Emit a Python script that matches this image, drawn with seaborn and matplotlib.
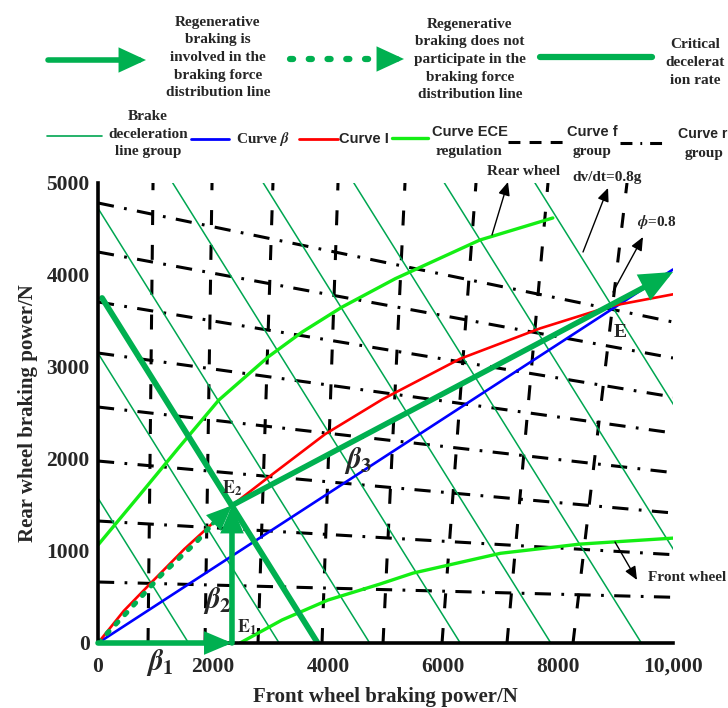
import numpy as np
import pandas as pd
import matplotlib
matplotlib.use("Agg")
import matplotlib.pyplot as plt
import seaborn as sns
from matplotlib.lines import Line2D

# ---------------- data ----------------
x_ticks = [0, 2000, 4000, 6000, 8000, 10000]
x_tick_labels = ["0", "2000", "4000", "6000", "8000", "10,000"]
y_ticks = [0, 1000, 2000, 3000, 4000, 5000]
y_tick_labels = ["0", "1000", "2000", "3000", "4000", "5000"]

beta_x = [0, 10000]
beta_y = [0, 4060]

curve_i_x = [0, 450, 940, 1500, 2330, 2940, 3950, 4950, 6300, 7690, 8940, 10000]
curve_i_y = [0, 350, 665, 1020, 1495, 1790, 2270, 2650, 3090, 3420, 3665, 3790]

ece_upper_x = [0, 700, 1400, 2100, 2960, 3550, 4240, 5170, 6640, 7910]
ece_upper_y = [1065, 1590, 2120, 2640, 3110, 3380, 3650, 3960, 4380, 4620]

ece_lower_x = [2470, 3200, 4000, 4900, 5480, 7000, 8380, 10000]
ece_lower_y = [0, 250, 467, 640, 760, 975, 1075, 1140]

decel_sums = [1575, 3150, 4725, 6300, 7875, 9450, 11025, 12600]

f_x_bottom = [870, 1861, 2783, 3896, 4957, 5983, 7113, 8261]
f_x_top = [957, 1983, 3043, 4174, 5339, 6574, 7826, 9200]

r_y_left = [4783, 4250, 3707, 3152, 2565, 1978, 1326, 663]
r_y_right = [3489, 3098, 2674, 2283, 1852, 1413, 960, 497]

regen_dotted_x = [0, 500, 1100, 1700, 2000]
regen_dotted_y = [0, 330, 740, 1090, 1300]

point_e1 = (2330, 0)
point_e2 = (2330, 1495)
beta3_end = (10000, 4033)
critical_x = [70, 3820]
critical_y = [3750, 0]

# ---------------- style ----------------
sns.set_theme(style="white")
plt.rcParams["font.family"] = ["Liberation Serif", "DejaVu Serif"]
plt.rcParams["font.weight"] = "bold"
plt.rcParams["mathtext.fontset"] = "stix"

GREEN = "#00B050"
THIN_GREEN = "#00A651"
LIME = "#14EE14"
SANS = ["Liberation Sans Narrow", "Liberation Sans", "DejaVu Sans"]

W, H = 728, 708
def fx(px):
    return px / W
def fy(py):
    return 1 - py / H

fig = plt.figure(figsize=(7.28, 7.08), dpi=100)
ax = fig.add_axes([fx(98), fy(643), (673 - 98) / W, (643 - 183) / H])

DASH = (0, (4.9, 6.5))
DASHDOT = (0, (5.3, 3.4, 0.9, 3.4))

# f group (near-vertical dashed)
f_df = pd.DataFrame({
    "x": [v for pair in zip(f_x_bottom, f_x_top) for v in pair],
    "y": [0, 5000] * len(f_x_bottom),
    "line": np.repeat(np.arange(len(f_x_bottom)), 2),
})
sns.lineplot(data=f_df, x="x", y="y", units="line", estimator=None, sort=False,
             color="black", lw=2.2, linestyle=DASH, ax=ax, legend=False)

# r group (dash-dot)
r_df = pd.DataFrame({
    "x": [0, 10000] * len(r_y_left),
    "y": [v for pair in zip(r_y_left, r_y_right) for v in pair],
    "line": np.repeat(np.arange(len(r_y_left)), 2),
})
sns.lineplot(data=r_df, x="x", y="y", units="line", estimator=None, sort=False,
             color="black", lw=2.2, linestyle=DASHDOT, ax=ax, legend=False)

# brake deceleration lines x + y = c
d_df = pd.DataFrame({
    "x": [v for c in decel_sums for v in (0, c)],
    "y": [v for c in decel_sums for v in (c, 0)],
    "line": np.repeat(np.arange(len(decel_sums)), 2),
})
sns.lineplot(data=d_df, x="x", y="y", units="line", estimator=None, sort=False,
             color=THIN_GREEN, lw=1.1, ax=ax, legend=False)

# curves
sns.lineplot(x=ece_upper_x, y=ece_upper_y, sort=False, estimator=None, color=LIME, lw=2.4, ax=ax)
sns.lineplot(x=ece_lower_x, y=ece_lower_y, sort=False, estimator=None, color=LIME, lw=2.4, ax=ax)
sns.lineplot(x=beta_x, y=beta_y, sort=False, estimator=None, color="#0000FF", lw=1.9, ax=ax)
sns.lineplot(x=curve_i_x, y=curve_i_y, sort=False, estimator=None, color="#FF0000", lw=1.9, ax=ax)

# critical deceleration line
sns.lineplot(x=critical_x, y=critical_y, sort=False, estimator=None, color=GREEN, lw=4.2, ax=ax)

# dotted regenerative-not-involved curve
ax.plot(regen_dotted_x, regen_dotted_y, color=GREEN, lw=3.6, linestyle=(0, (0.6, 2.0)),
        dash_capstyle="round")

def big_arrow(start, end, hl=13, hw=5.5, lw=4.0):
    ax.annotate("", xy=end, xytext=start,
                arrowprops=dict(arrowstyle=f"-|>,head_length={hl},head_width={hw}",
                                mutation_scale=1, lw=lw, color=GREEN, shrinkA=0, shrinkB=0,
                                joinstyle="miter"),
                annotation_clip=False)

big_arrow((0, 0), point_e1)
big_arrow(point_e1, point_e2)
big_arrow(point_e2, beta3_end, hl=17, hw=7.5)
big_arrow((regen_dotted_x[-1], regen_dotted_y[-1]), point_e2, hl=13, hw=5.5, lw=3.0)

# thin annotation arrows
def thin_arrow(start, end):
    ax.annotate("", xy=end, xytext=start,
                arrowprops=dict(arrowstyle="-|>,head_length=0.8,head_width=0.35",
                                mutation_scale=10, lw=1.0, color="black", shrinkA=0, shrinkB=0),
                annotation_clip=False)

thin_arrow((6852, 4435), (7130, 5011))
thin_arrow((8435, 4250), (8870, 4946))
thin_arrow((8957, 3815), (9478, 4413))
thin_arrow((8991, 1098), (9374, 685))

ax.text(7409, 5120, "Rear wheel", ha="center", va="center", fontsize=11, fontweight="bold", clip_on=False)
ax.text(8852, 5065, "dv/dt=0.8g", ha="center", va="center", fontsize=11, fontweight="bold", clip_on=False)
ax.text(9722, 4576, r"$\phi$=0.8", ha="center", va="center", fontsize=11, fontweight="bold", clip_on=False)
ax.text(9565, 717, "Front wheel", ha="left", va="center", fontsize=11, fontweight="bold", clip_on=False)

ax.text(9078, 3380, "E", ha="center", va="center", fontsize=14, fontweight="bold")
ax.text(2330, 1685, r"$\mathbf{E}_\mathbf{2}$", ha="center", va="center", fontsize=13)
ax.text(2590, 174, r"$\mathbf{E}_\mathbf{1}$", ha="center", va="center", fontsize=13)
ax.text(1078, -207, r"$\beta_1$", ha="center", va="center", fontsize=21, clip_on=False)
ax.text(2070, 467, r"$\beta_2$", ha="center", va="center", fontsize=21)
ax.text(4522, 1989, r"$\beta_3$", ha="center", va="center", fontsize=21)

# axes
ax.set_xlim(0, 10000)
ax.set_ylim(0, 5000)
ax.set_xticks(x_ticks)
ax.set_xticklabels(x_tick_labels, fontsize=15.5, fontweight="bold")
ax.set_yticks(y_ticks)
ax.set_yticklabels(y_tick_labels, fontsize=15.5, fontweight="bold")
ax.tick_params(axis="both", direction="in", length=6, width=2.2, color="black")
ax.tick_params(axis="x", pad=10)
ax.tick_params(axis="y", pad=6)
ax.set_xlabel("Front wheel braking power/N", fontsize=15, fontweight="bold", labelpad=7)
ax.set_ylabel("Rear wheel braking power/N", fontsize=15, fontweight="bold", labelpad=6)
sns.despine(ax=ax)
for s in ("left", "bottom"):
    ax.spines[s].set_linewidth(2.6)
    ax.spines[s].set_color("black")
ax.grid(False)

# ---------------- legend drawn in figure pixels ----------------
def fig_line(x0, x1, y, **kw):
    fig.add_artist(Line2D([fx(x0), fx(x1)], [fy(y), fy(y)], transform=fig.transFigure, **kw))

def fig_text(x, y, s, ha="center", family=None, size=11):
    kw = {}
    if family is not None:
        kw["family"] = family
    fig.text(fx(x), fy(y), s, ha=ha, va="center", fontsize=size, fontweight="bold",
             linespacing=1.46, **kw)

def fig_arrow(x0, x1, y):
    ax.annotate("", xy=(x1, H - y), xytext=(x0, H - y), xycoords="figure pixels",
                textcoords="figure pixels",
                arrowprops=dict(arrowstyle="-|>,head_length=13,head_width=6", mutation_scale=1,
                                lw=4.0, color=GREEN, shrinkA=0, shrinkB=0, joinstyle="miter"),
                annotation_clip=False)

fig_arrow(48, 146, 60)
fig_text(218, 57.5, "Regenerative\nbraking is\ninvolved in the\nbraking force\ndistribution line")
fig_line(290, 382, 59, color=GREEN, lw=4.5, linestyle=(0, (0.5, 2.5)), dash_capstyle="round")
fig_arrow(380, 404, 59)
fig_text(470, 59.5, "Regenerative\nbraking does not\nparticipate in the\nbraking force\ndistribution line")
fig_line(540, 652, 57, color=GREEN, lw=4.5)
fig_text(695, 62.5, "Critical\ndecelerat\nion rate")

fig_line(47, 102, 136, color=THIN_GREEN, lw=1.2)
fig_text(148, 134, "Brake\ndeceleration\nline group")
fig_line(191, 229, 139, color="#0000FF", lw=2.0)
fig_text(263, 139, r"Curve $\beta$")
fig_line(299, 338, 139, color="#FF0000", lw=2.0)
fig_text(364, 139, "Curve I", family=SANS, size=10.5)
fig_line(392, 428, 138, color=LIME, lw=2.4)
fig_text(470, 132, "Curve ECE", family=SANS, size=10.5)
fig_text(469, 151, "regulation")
fig_line(508, 565, 142, color="black", lw=2.2, linestyle=(0, (3.9, 3.0)))
fig_text(592, 132, "Curve f", family=SANS, size=10.5)
fig_text(592, 151, "group")
fig_line(620, 668, 143, color="black", lw=2.2, linestyle=(0, (3.9, 2.6, 0.6, 2.6)))
fig_text(678, 134, "Curve r", ha="left", family=SANS, size=10.2)
fig_text(704, 153, "group")

fig.savefig("out.png", dpi=100)
